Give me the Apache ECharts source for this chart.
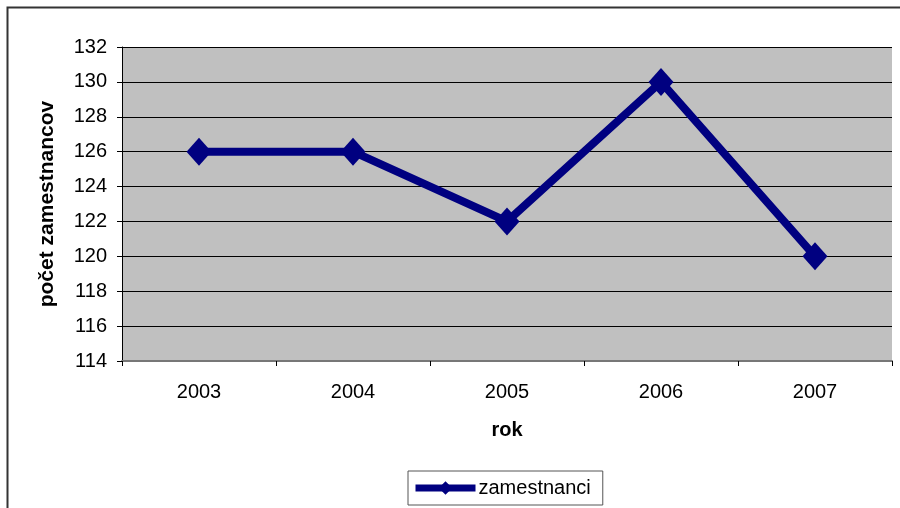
<!DOCTYPE html>
<html><head><meta charset="utf-8">
<script src="https://cdn.jsdelivr.net/npm/echarts@6/dist/echarts.min.js"></script>
<style>html,body{margin:0;padding:0;background:#fff}#c{width:900px;height:508px}</style>
</head><body><div id="c"></div>
<script>
const categories = ['2003', '2004', '2005', '2006', '2007'];
const zamestnanci = [126, 126, 122, 130, 120];
const seriesName = 'zamestnanci';
const yMin = 114, yMax = 132, yStep = 2;

const chart = echarts.init(document.getElementById('c'), null, {renderer: 'canvas'});
const font = 'Liberation Sans, Arial, sans-serif';
chart.setOption({
  animation: false,
  backgroundColor: '#fff',
  graphic: [{
    type: 'rect', z: -1,
    shape: {x: 7.5, y: 7.5, width: 1000, height: 1000},
    style: {fill: 'none', stroke: '#333', lineWidth: 2}
  }],
  grid: {left: 122, top: 47, width: 770, height: 314, show: true,
    backgroundColor: '#c0c0c0', borderWidth: 0},
  legend: {
    data: [seriesName], left: 408, top: 471,
    itemWidth: 60, itemHeight: 17, itemGap: 0,
    padding: [7, 12, 7, 4],
    borderColor: '#555', borderWidth: 1,
    lineStyle: {width: 7, color: '#000080'},
    textStyle: {fontFamily: font, fontSize: 20, color: '#000', padding: [0, 0, 0, -2]}
  },
  xAxis: {
    type: 'category', data: categories, boundaryGap: true,
    name: 'rok', nameLocation: 'middle', nameGap: 59,
    nameTextStyle: {fontFamily: font, fontSize: 20, fontWeight: 'bold', color: '#000'},
    axisLine: {lineStyle: {color: '#777', width: 2}},
    axisTick: {show: true, length: 5, inside: false, lineStyle: {color: '#000'}},
    axisLabel: {fontFamily: font, fontSize: 20, color: '#000', margin: 21}
  },
  yAxis: {
    type: 'value', min: yMin, max: yMax, interval: yStep,
    name: 'počet zamestnancov', nameLocation: 'middle', nameGap: 64,
    nameTextStyle: {fontFamily: font, fontSize: 21, fontWeight: 'bold', color: '#000'},
    axisLine: {show: true, lineStyle: {color: '#000', width: 1}},
    axisTick: {show: true, length: 5, lineStyle: {color: '#000'}},
    axisLabel: {fontFamily: font, fontSize: 20, color: '#000', margin: 15},
    splitLine: {show: true, lineStyle: {color: '#000', width: 1}}
  },
  series: [{
    name: seriesName, type: 'line', data: zamestnanci,
    symbol: 'diamond', symbolSize: [25, 28],
    lineStyle: {color: '#000080', width: 8},
    itemStyle: {color: '#000080'}
  }]
});
</script></body></html>
